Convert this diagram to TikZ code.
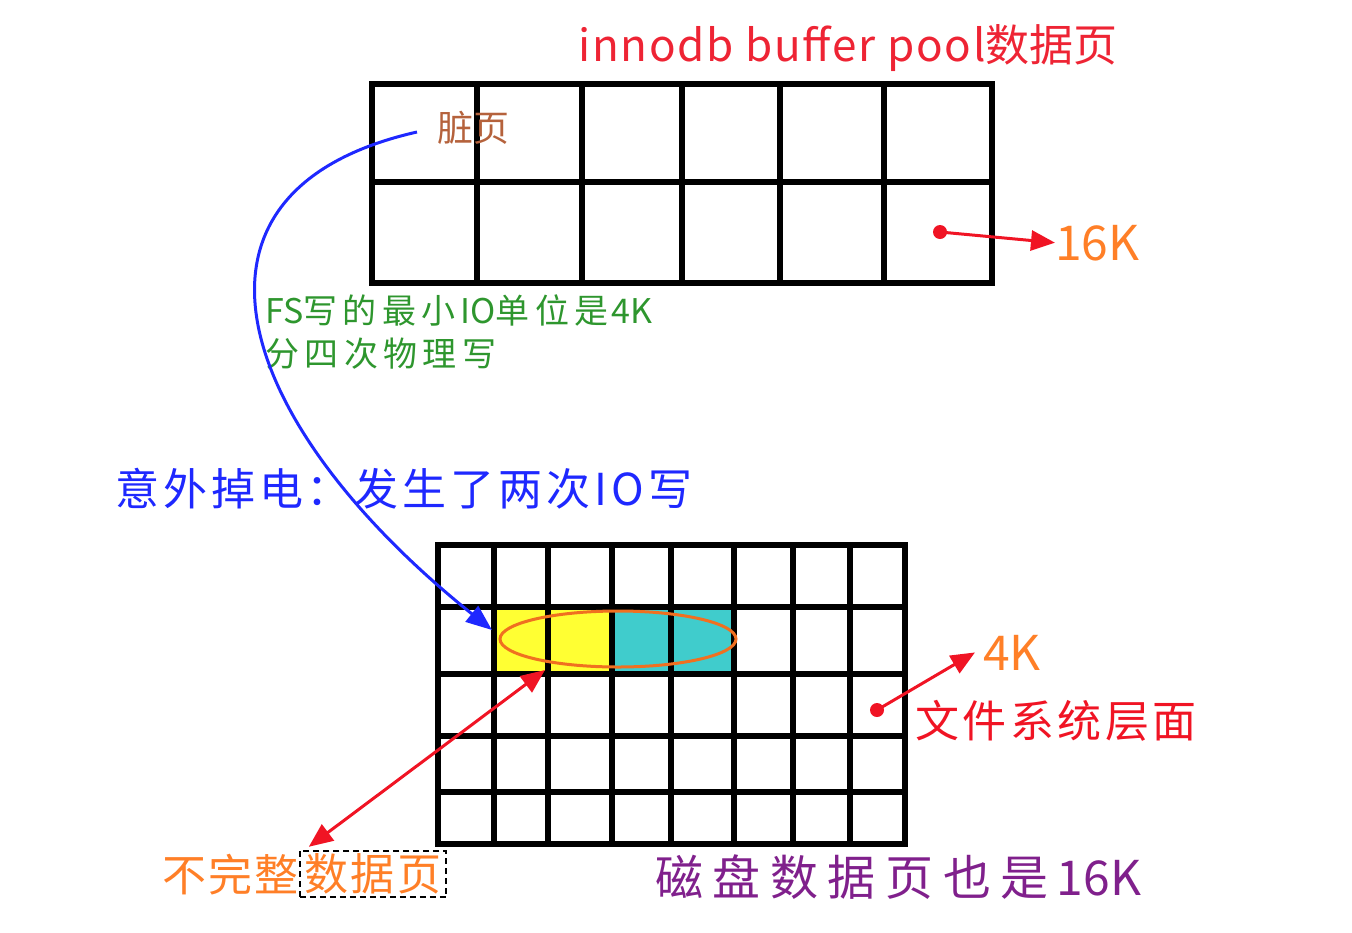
\documentclass[tikz,border=0pt]{standalone}
\usepackage{fontspec}
\setmainfont{Noto Sans CJK SC}
\usetikzlibrary{arrows.meta}
\definecolor{titlered}{RGB}{238,36,52}
\definecolor{dirtybrown}{RGB}{181,98,60}
\definecolor{notegreen}{RGB}{46,150,46}
\definecolor{lossblue}{RGB}{30,40,255}
\definecolor{sizeorange}{RGB}{255,127,39}
\definecolor{arrowred}{RGB}{240,20,36}
\definecolor{diskpurple}{RGB}{128,32,140}
\definecolor{cellyellow}{RGB}{255,255,51}
\definecolor{cellcyan}{RGB}{64,204,204}
\definecolor{ringorange}{RGB}{240,112,32}
\newcommand{\plain}[1]{{\addfontfeatures{LetterSpace=0}#1}}

\begin{document}
\begin{tikzpicture}[x=1pt,y=-1pt]
\tikzstyle{every node}+=[inner sep=0pt,anchor=base west]
\tikzstyle{grid line}=[black,line width=6pt]
\tikzstyle{red link}=[arrowred,line width=3pt,-{Triangle[length=24pt,width=20pt]}]
\useasboundingbox (0,0) rectangle (1352,932);
% buffer pool page
\draw[grid line] (372,84) rectangle (992,283);
\foreach \x in {477,582,682,780,884} \draw[grid line] (\x,84) -- (\x,283);
\draw[grid line] (372,182) -- (992,182);
% disk page
\fill[cellyellow] (494,607) rectangle (612,674);
\fill[cellcyan] (612,607) rectangle (734,674);
\draw[grid line] (438,545) rectangle (905,844);
\foreach \x in {494,548,612,671,734,793,850} \draw[grid line] (\x,545) -- (\x,844);
\foreach \y in {607,674,736,792} \draw[grid line] (438,\y) -- (905,\y);
\draw[ringorange,line width=3pt] (618,639) ellipse [x radius=118,y radius=28];
% labels
\node[titlered,font=\fontsize{44}{50}\selectfont] (bpTitle) at (578,61) {{\addfontfeatures{LetterSpace=4}innodb buffer pool}数据页};
\node[dirtybrown,font=\fontsize{36}{40}\selectfont] (dirty) at (437,141) {脏页};
\node[notegreen,font=\fontsize{34}{42}\selectfont\addfontfeatures{LetterSpace=16}] (fsNote) at (265,323) {\plain{FS}写的最小\hspace{5pt}\plain{IO}单位是\hspace{3pt}\plain{4K}};
\node[notegreen,font=\fontsize{34}{42}\selectfont\addfontfeatures{LetterSpace=16}] (fsNote2) at (265,366) {分四次物理写};
\node[lossblue,font=\fontsize{44}{50}\selectfont\addfontfeatures{LetterSpace=9}] (powerLoss) at (115,505) {意外掉电：发生了两次IO写};
\node[sizeorange,font=\fontsize{48}{50}\selectfont] (sz16) at (1055,260) {16K};
\node[sizeorange,font=\fontsize{48}{50}\selectfont] (sz4) at (983,670) {4K};
\node[arrowred,font=\fontsize{44}{50}\selectfont\addfontfeatures{LetterSpace=8}] (fsLayer) at (915,737) {文件系统层面};
\node[sizeorange,font=\fontsize{44}{50}\selectfont\addfontfeatures{LetterSpace=5}] (partial) at (162,891) {不完整};
\node[sizeorange,font=\fontsize{44}{50}\selectfont\addfontfeatures{LetterSpace=5},draw=black,line width=2pt,dash pattern=on 6pt off 4pt,inner xsep=5pt,inner ysep=3pt,anchor=west] (torn) at (partial.east) {数据页};
\node[diskpurple,font=\fontsize{48}{50}\selectfont\addfontfeatures{LetterSpace=20}] (diskNote) at (655,895) {磁盘数据页也是\hspace{8pt}\plain{16K}};
% connectors
\coordinate (dirtyTail) at (417,132);
\coordinate (tornCell) at (492,630);
\draw[lossblue,line width=3pt,-{Triangle[length=26pt,width=20pt]}] (dirtyTail) .. controls (160,190) and (230,420) .. (tornCell);
\coordinate (poolDot) at (940,232);
\coordinate (diskDot) at (877,710);
\fill[arrowred] (poolDot) circle (7);
\fill[arrowred] (diskDot) circle (7);
\draw[red link] (poolDot) -- (sz16.west);
\draw[red link] (diskDot) -- ([xshift=-8pt]sz4.west);
\coordinate (yellowCell) at (545,670);
\draw[red link,{Triangle[length=24pt,width=20pt]}-{Triangle[length=24pt,width=20pt]}] ([xshift=10pt,yshift=3pt]torn.north west) -- (yellowCell);
\end{tikzpicture}
\end{document}
